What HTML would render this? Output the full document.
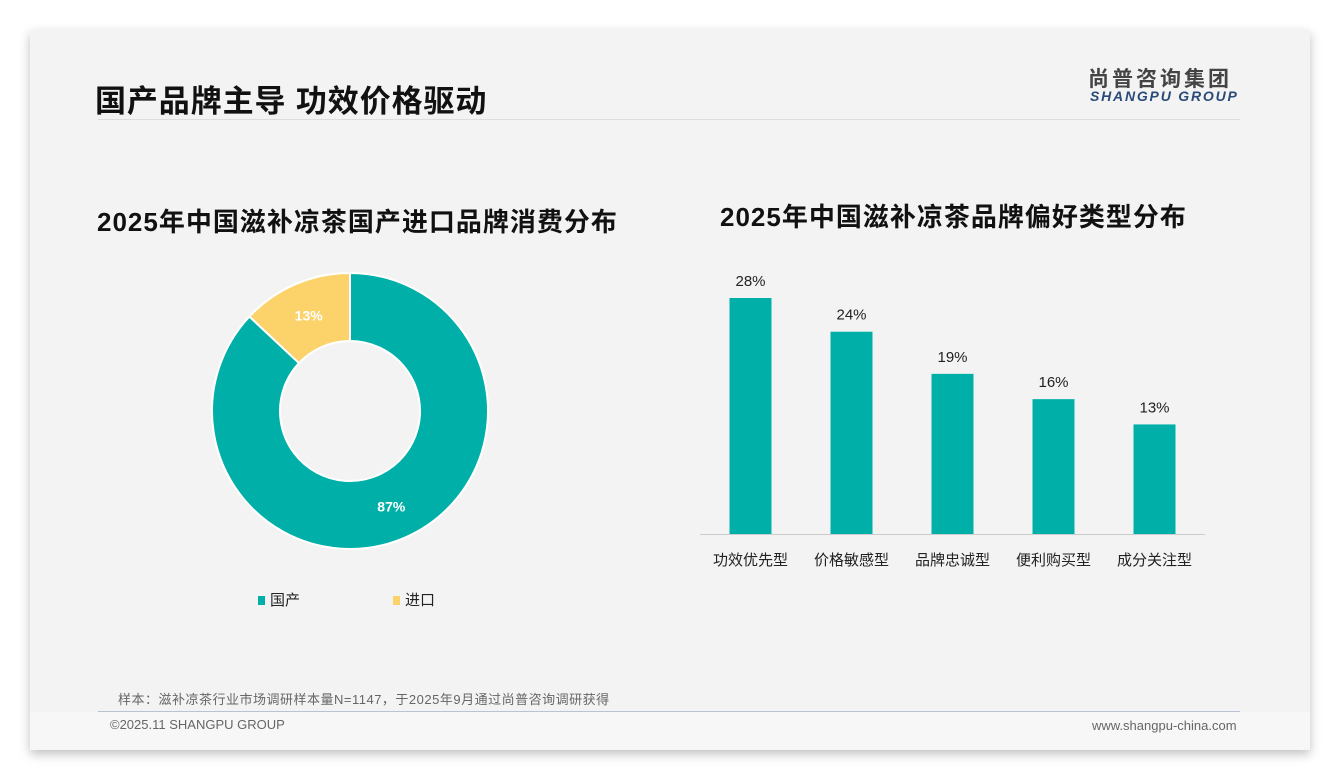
<!DOCTYPE html>
<html><head><meta charset="utf-8"><style>
body{margin:0;width:1340px;height:780px;background:#fff;position:relative;overflow:hidden;font-family:"Liberation Sans","Noto Sans CJK SC",sans-serif;}
#card{position:absolute;left:30px;top:30px;width:1280px;height:720px;background:#f3f3f3;box-shadow:0 4px 10px rgba(0,0,0,0.25);}
.t{position:absolute;white-space:nowrap;}
</style></head><body>
<div id="card"></div>
<div class="t" style="left:95px;top:76px;font-size:31px;font-weight:bold;color:#111;letter-spacing:0.9px;">国产品牌主导 功效价格驱动</div>
<div class="t" style="left:1088px;top:63px;font-size:21px;font-weight:bold;color:#444;letter-spacing:3px;">尚普咨询集团</div>
<div class="t" style="left:1090px;top:88px;font-size:14px;font-weight:bold;font-style:italic;color:#2a4a7a;letter-spacing:1.8px;">SHANGPU GROUP</div>
<div style="position:absolute;left:98px;top:119px;width:1142px;height:1px;background:#ddd;"></div>
<div class="t" style="left:97px;top:202px;font-size:26px;font-weight:bold;color:#111;letter-spacing:1px;">2025年中国滋补凉茶国产进口品牌消费分布</div>
<div class="t" style="left:720px;top:197px;font-size:26px;font-weight:bold;color:#111;letter-spacing:1px;">2025年中国滋补凉茶品牌偏好类型分布</div>
<svg id="chart" width="1340" height="780" style="position:absolute;left:0;top:0;"></svg>
<div class="t" style="left:258px;top:589px;font-size:15px;color:#222;"><span style="display:inline-block;width:7px;height:9px;background:#00b0a8;margin-right:5px;"></span>国产</div>
<div class="t" style="left:393px;top:589px;font-size:15px;color:#222;"><span style="display:inline-block;width:7px;height:9px;background:#fcd26b;margin-right:5px;"></span>进口</div>
<div class="t" style="left:118px;top:689px;font-size:13px;color:#666;letter-spacing:0.5px;">样本：滋补凉茶行业市场调研样本量N=1147，于2025年9月通过尚普咨询调研获得</div>
<div style="position:absolute;left:98px;top:711px;width:1142px;height:1px;background:#b8c4d2;"></div>
<div style="position:absolute;left:30px;top:712px;width:1280px;height:38px;background:#f7f7f7;"></div>
<div class="t" style="left:110px;top:717px;font-size:13px;color:#666;">©2025.11 SHANGPU GROUP</div>
<div class="t" style="left:1092px;top:718px;font-size:13px;color:#666;">www.shangpu-china.com</div>
<script>
const pieLabels=["国产","进口"];
const pieValues=[87,13];
const pieColors=["#00b0a8","#fcd26b"];
const barCats=["功效优先型","价格敏感型","品牌忠诚型","便利购买型","成分关注型"];
const barValues=[28,24,19,16,13];
const NS="http://www.w3.org/2000/svg";
const svg=document.getElementById('chart');
function mk(t,a){const e=document.createElementNS(NS,t);for(const k in a)e.setAttribute(k,a[k]);svg.appendChild(e);return e;}
const cx=350,cy=411,R=138,r=70;
const tot=pieValues.reduce((a,b)=>a+b,0);
let ang=0;
pieValues.forEach((v,i)=>{
 const a0=ang,a1=ang+v/tot*2*Math.PI;ang=a1;
 const p=(a,rr)=>[cx+rr*Math.sin(a),cy-rr*Math.cos(a)];
 const [x0,y0]=p(a0,R),[x1,y1]=p(a1,R),[x2,y2]=p(a1,r),[x3,y3]=p(a0,r);
 const lg=(a1-a0)>Math.PI?1:0;
 const s=mk('path',{d:`M${x0},${y0}A${R},${R} 0 ${lg} 1 ${x1},${y1}L${x2},${y2}A${r},${r} 0 ${lg} 0 ${x3},${y3}Z`,fill:pieColors[i],stroke:'#fff','stroke-width':2});
 
 
 const m=(a0+a1)/2,[lx,ly]=p(m,(R+r)/2);
 const t=mk('text',{x:lx,y:ly+5,'text-anchor':'middle','font-size':14,'font-weight':'bold',fill:'#fff'});
 t.textContent=v+'%';
 
 
});
const x0=700,x1=1205,base=534,scale=236/28,bw=42;
const step=(x1-x0)/barCats.length;
const ax=mk('line',{x1:x0,x2:x1,y1:base+0.5,y2:base+0.5,stroke:'#ccc'});


barCats.forEach((c,i)=>{
 const xc=x0+step*(i+0.5),h=barValues[i]*scale;
 const b=mk('rect',{x:xc-bw/2,y:base-h,width:bw,height:h,fill:'#00b0a8'});
 
 
 const v=mk('text',{x:xc,y:base-h-12,'text-anchor':'middle','font-size':15,fill:'#222'});
 v.textContent=barValues[i]+'%';
 
 
 const l=mk('text',{x:xc,y:base+31,'text-anchor':'middle','font-size':15,fill:'#222'});
 l.textContent=c;
 
 
});
</script>
</body></html>
